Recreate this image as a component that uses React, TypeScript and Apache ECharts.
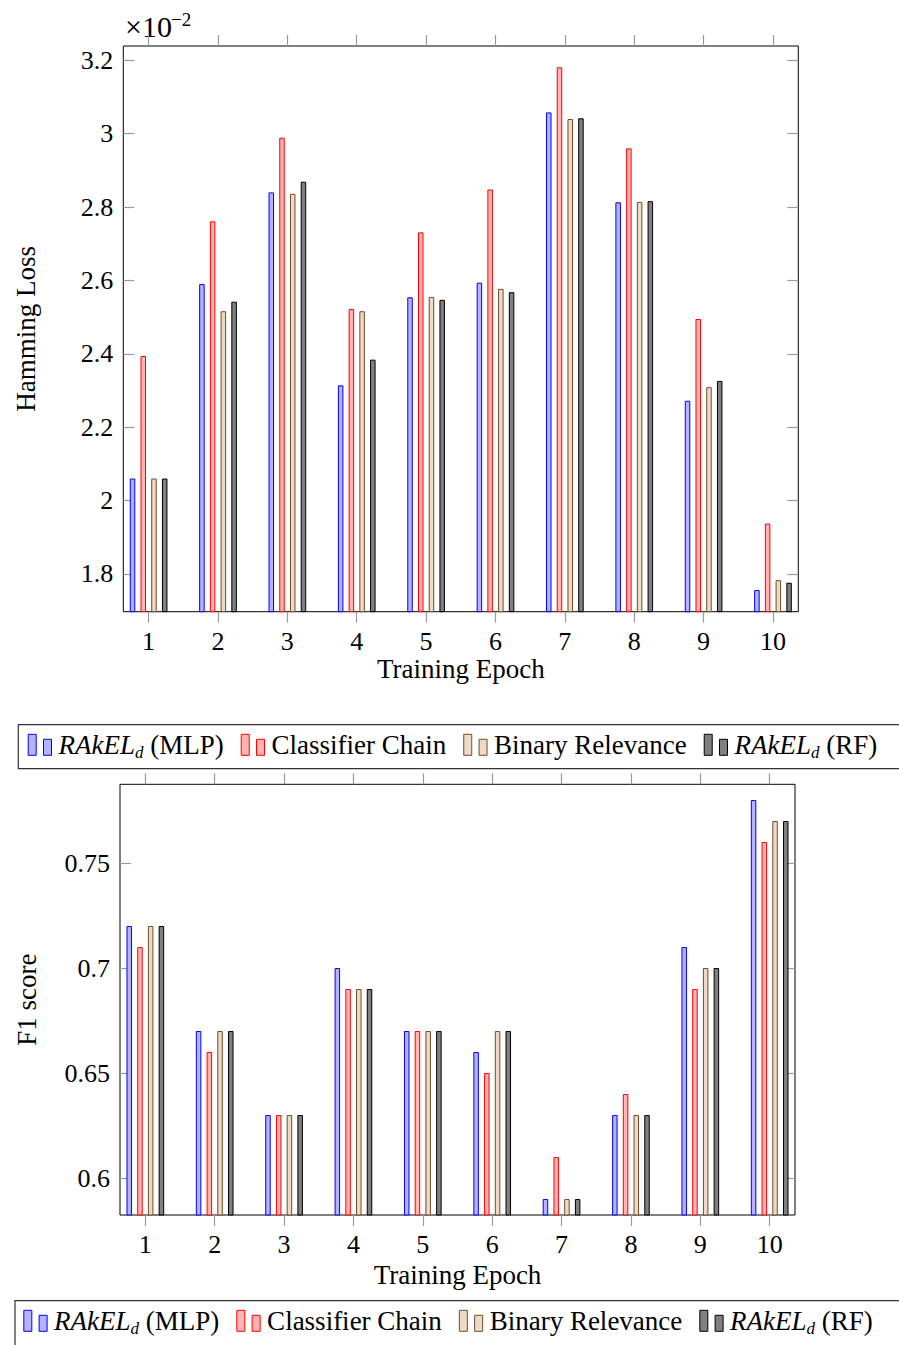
import React, { useEffect, useRef } from 'react';
import * as echarts from 'echarts';

// ---------- data ----------
const epochs = [1, 2, 3, 4, 5, 6, 7, 8, 9, 10];
const seriesNames = ['RAkEL_d (MLP)', 'Classifier Chain', 'Binary Relevance', 'RAkEL_d (RF)'];

// Hamming loss (x 10^-2)
const hammingMLP = [2.06, 2.59, 2.84, 2.314, 2.554, 2.594, 3.058, 2.813, 2.272, 1.756];
const hammingCC = [2.394, 2.761, 2.989, 2.522, 2.731, 2.848, 3.181, 2.96, 2.495, 1.937];
const hammingBR = [2.06, 2.516, 2.836, 2.516, 2.555, 2.577, 3.04, 2.814, 2.309, 1.783];
const hammingRF = [2.06, 2.542, 2.869, 2.384, 2.547, 2.568, 3.042, 2.816, 2.326, 1.776];

// F1 score
const f1MLP = [0.72, 0.67, 0.63, 0.7, 0.67, 0.66, 0.59, 0.63, 0.71, 0.78];
const f1CC = [0.71, 0.66, 0.63, 0.69, 0.67, 0.65, 0.61, 0.64, 0.69, 0.76];
const f1BR = [0.72, 0.67, 0.63, 0.69, 0.67, 0.67, 0.59, 0.63, 0.7, 0.77];
const f1RF = [0.72, 0.67, 0.63, 0.69, 0.67, 0.67, 0.59, 0.63, 0.7, 0.77];

const hammingTicks = [1.8, 2.0, 2.2, 2.4, 2.6, 2.8, 3.0, 3.2];
const f1Ticks = [0.6, 0.65, 0.7, 0.75];

// ---------- style ----------
const FONT = "'Liberation Serif', 'Times New Roman', serif";
const fills = ['#b3b3ff', '#ffb3b3', '#ecd9c6', '#808080'];
const strokes = ['#0000ff', '#ff0000', '#734d26', '#000000'];
const tickLine = { color: '#9a9a9a', width: 1.2 };
const labelFont = { fontSize: 26, fontFamily: FONT, color: '#000' };
const LEGEND_FS = 27;

const legendIcon = 'path://M0,0L8,0L8,21L0,21Z M15.3,5L23.3,5L23.3,21L15.3,21Z';

function legendFormatter(name: string) {
  if (name === 'RAkEL_d (MLP)') return '{i|RAkEL}{s|d}{n| (MLP)}';
  if (name === 'RAkEL_d (RF)') return '{i|RAkEL}{s|d}{n| (RF)}';
  return name;
}

function makeLegend(left: number, top: number) {
  return {
    left,
    top,
    orient: 'horizontal',
    padding: 0,
    itemWidth: 23.3,
    itemHeight: 21,
    itemGap: 17,
    icon: legendIcon,
    selectedMode: false,
    formatter: legendFormatter,
    data: seriesNames.map((n, i) => ({
      name: n,
      itemStyle: { color: fills[i], borderColor: strokes[i], borderWidth: 1 },
    })),
    textStyle: {
      fontSize: LEGEND_FS,
      fontFamily: FONT,
      color: '#000',
      padding: [0, 0, 0, 2],
      rich: {
        i: { fontSize: LEGEND_FS, fontFamily: FONT, fontStyle: 'italic', color: '#000' },
        n: { fontSize: LEGEND_FS, fontFamily: FONT, color: '#000' },
        s: { fontSize: 17, fontFamily: FONT, fontStyle: 'italic', color: '#000', padding: [16, 0, 0, 0] },
      },
    },
  };
}

function xAxes(gridIndex: number, labelMargin: number, nameGap: number) {
  const common = {
    type: 'value',
    gridIndex,
    min: 0.635,
    max: 10.365,
    axisLine: { show: false },
    splitLine: { show: false },
  };
  return [
    {
      ...common,
      position: 'bottom',
      axisTick: { show: true, inside: false, length: 11, customValues: epochs, lineStyle: tickLine },
      axisLabel: { show: true, customValues: epochs, margin: labelMargin, ...labelFont },
      name: 'Training Epoch',
      nameLocation: 'middle',
      nameGap,
      nameTextStyle: { ...labelFont, fontSize: 27 },
    },
    {
      ...common,
      position: 'top',
      axisTick: { show: true, inside: false, length: 11, customValues: epochs, lineStyle: tickLine },
      axisLabel: { show: false },
    },
  ];
}

function yAxes(gridIndex: number, min: number, max: number, ticks: number[], name: string, nameGap: number) {
  const common = {
    type: 'value',
    gridIndex,
    min,
    max,
    axisLine: { show: false },
    splitLine: { show: false },
  };
  return [
    {
      ...common,
      position: 'left',
      axisTick: { show: true, inside: true, length: 11, customValues: ticks, lineStyle: tickLine },
      axisLabel: {
        show: true,
        customValues: ticks,
        margin: 10,
        formatter: (v: number) => String(Number(Number(v).toFixed(2))),
        ...labelFont,
      },
      name,
      nameLocation: 'middle',
      nameRotate: 90,
      nameGap,
      nameTextStyle: { ...labelFont, fontSize: 27 },
    },
    {
      ...common,
      position: 'right',
      axisTick: { show: true, inside: true, length: 11, customValues: ticks, lineStyle: tickLine },
      axisLabel: { show: false },
    },
  ];
}

function barSeries(values: number[][], xAxisIndex: number, yAxisIndex: number) {
  return values.map((vals, i) => ({
    type: 'bar',
    name: seriesNames[i],
    xAxisIndex,
    yAxisIndex,
    barWidth: 5.5,
    barGap: '95%',
    clip: true,
    itemStyle: { color: fills[i], borderColor: strokes[i], borderWidth: 1 },
    data: epochs.map((e, k) => [e, vals[k]]),
  }));
}

export default function App() {
  const ref = useRef<HTMLDivElement>(null);

  useEffect(() => {
    if (!ref.current) return;
    const chart = echarts.init(ref.current, null, { renderer: 'svg' });
    const option: any = {
      animation: false,
      backgroundColor: '#fff',
      grid: [
        { left: 123.3, top: 46, width: 675, height: 565.7, show: true, borderColor: '#000', borderWidth: 1, backgroundColor: 'transparent' },
        { left: 120, top: 784.3, width: 675, height: 430.7, show: true, borderColor: '#000', borderWidth: 1, backgroundColor: 'transparent' },
      ],
      xAxis: [...xAxes(0, 17, 44), ...xAxes(1, 16, 46)],
      yAxis: [
        ...yAxes(0, 1.697, 3.239, hammingTicks, 'Hamming Loss', 84),
        ...yAxes(1, 0.5824, 0.7875, f1Ticks, 'F1 score', 80),
      ],
      legend: [makeLegend(27.7, 731.3), makeLegend(23.3, 1307.3)],
      series: [
        ...barSeries([hammingMLP, hammingCC, hammingBR, hammingRF], 0, 0),
        ...barSeries([f1MLP, f1CC, f1BR, f1RF], 2, 2),
      ],
      graphic: [
        {
          type: 'rect',
          silent: true,
          shape: { x: 18.3, y: 724.7, width: 900, height: 44 },
          style: { fill: 'none', stroke: '#333', lineWidth: 1.2 },
        },
        {
          type: 'rect',
          silent: true,
          shape: { x: 15, y: 1300.7, width: 900, height: 60 },
          style: { fill: 'none', stroke: '#333', lineWidth: 1.2 },
        },
        {
          type: 'text',
          x: 125,
          y: 26,
          style: { text: '×10', fontSize: 30, fontFamily: FONT, fill: '#000', align: 'left', verticalAlign: 'middle' },
        },
        {
          type: 'text',
          x: 171,
          y: 19,
          style: { text: '−2', fontSize: 19, fontFamily: FONT, fill: '#000', align: 'left', verticalAlign: 'middle' },
        },
      ],
    };
    chart.setOption(option);
    return () => {
      chart.dispose();
    };
  }, []);

  return (
    <div
      ref={ref}
      style={{ position: 'absolute', left: 0, top: 0, width: 899, height: 1345, background: '#fff' }}
    />
  );
}
